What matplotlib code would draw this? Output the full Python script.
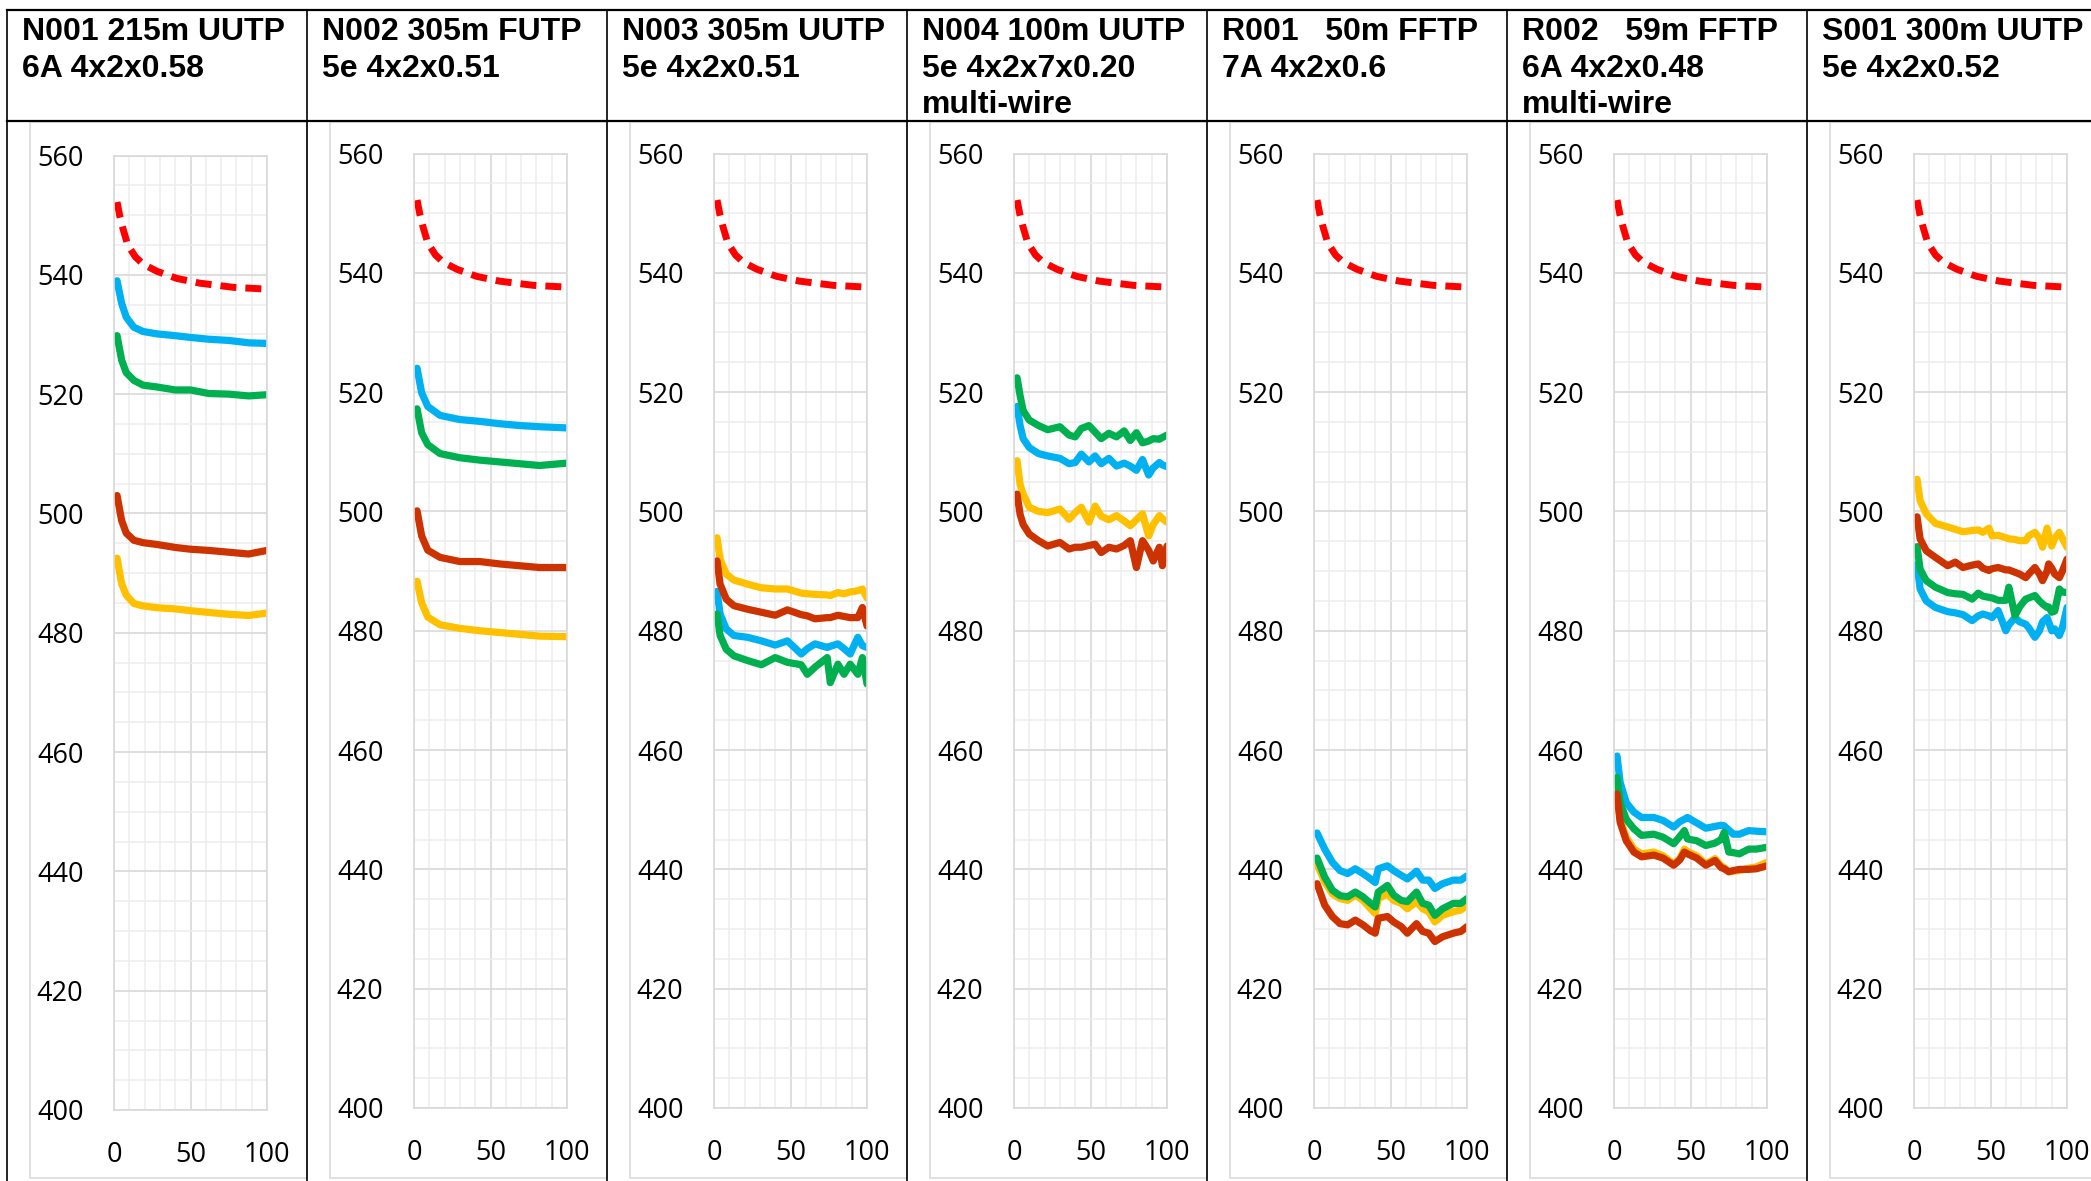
import matplotlib
matplotlib.use("Agg")
import matplotlib.pyplot as plt
from matplotlib.patches import Rectangle

# header text of each table column
headers = [
    ["N001 215m UUTP", "6A 4x2x0.58"],
    ["N002 305m FUTP", "5e 4x2x0.51"],
    ["N003 305m UUTP", "5e 4x2x0.51"],
    ["N004 100m UUTP", "5e 4x2x7x0.20", "multi-wire"],
    ["R001   50m FFTP", "7A 4x2x0.6"],
    ["R002   59m FFTP", "6A 4x2x0.48", "multi-wire"],
    ["S001 300m UUTP", "5e 4x2x0.52"],
]

# limit line (red dashed), same in every chart
limit_x = [2, 4, 6, 9, 14, 19, 28, 41, 56, 78, 100]
limit_y = [552.2, 549.6, 547.6, 545.0, 543.0, 541.8, 540.6, 539.4, 538.6, 537.9, 537.6]

# N001
n001_x = [2, 5, 8, 13, 19, 28, 40, 50, 62, 75, 88, 100]
n001_blue = [539.0, 535.2, 532.9, 531.2, 530.5, 530.1, 529.8, 529.5, 529.2, 529.0, 528.6, 528.5]
n001_green = [529.8, 525.7, 523.6, 522.3, 521.5, 521.2, 520.7, 520.7, 520.1, 520.0, 519.7, 519.9]
n001_red = [503.0, 498.8, 496.7, 495.5, 495.1, 494.8, 494.3, 494.0, 493.8, 493.5, 493.2, 493.8]
n001_yellow = [492.5, 488.2, 486.3, 484.9, 484.5, 484.2, 484.0, 483.7, 483.4, 483.1, 482.9, 483.3]

# N002
n002_x = [2, 5, 9, 17, 30, 43, 56, 69, 82, 100]
n002_blue = [524.0, 519.9, 517.6, 516.1, 515.4, 515.1, 514.7, 514.4, 514.2, 514.0]
n002_green = [517.2, 513.2, 511.2, 509.7, 509.0, 508.6, 508.3, 508.0, 507.7, 508.1]
n002_red = [500.1, 495.9, 493.5, 492.3, 491.6, 491.6, 491.2, 490.9, 490.6, 490.6]
n002_yellow = [488.3, 484.7, 482.3, 481.0, 480.4, 480.0, 479.7, 479.4, 479.1, 479.0]

# N003
n003_x = [2, 4, 8, 13, 22, 31, 40, 48, 57, 61, 66, 74, 76, 81, 85, 89, 94, 97, 100]
n003_yellow = [495.6, 492.0, 489.5, 488.5, 487.8, 487.2, 487.0, 487.0, 486.3, 486.2, 486.1,
               486.0, 485.9, 486.4, 486.2, 486.5, 486.7, 487.0, 485.5]
n003_red = [491.7, 487.8, 485.3, 484.2, 483.6, 483.1, 482.6, 483.5, 482.7, 482.5, 482.0,
            482.2, 482.2, 482.6, 482.4, 482.2, 482.2, 483.9, 480.8]
n003_blue = [486.6, 482.8, 480.3, 479.2, 478.9, 478.3, 477.6, 478.3, 476.1, 477.0, 477.8,
             477.2, 477.4, 477.8, 477.0, 476.1, 478.9, 477.5, 477.2]
n003_green = [482.8, 479.2, 476.9, 475.8, 475.0, 474.3, 475.5, 474.7, 474.3, 472.7, 473.9,
              475.5, 471.3, 474.4, 472.7, 474.4, 472.7, 475.5, 471.1]

# N004
n004_x = [2, 4, 6, 10, 16, 22, 30, 36, 40, 44, 49, 53, 57, 62, 67, 72, 76, 80, 84, 88, 91, 95, 97, 100]
n004_green = [522.4, 519.4, 516.9, 515.3, 514.4, 513.7, 514.2, 512.8, 512.5, 513.9, 514.4, 513.3,
              512.2, 513.1, 512.5, 513.5, 511.9, 513.2, 511.5, 511.8, 512.2, 512.1, 512.4, 512.8]
n004_blue = [517.6, 514.4, 512.2, 510.7, 509.7, 509.3, 508.9, 508.0, 508.2, 509.6, 508.3, 509.3,
             508.0, 508.9, 507.6, 508.1, 507.6, 506.9, 508.7, 506.1, 507.3, 508.2, 507.8, 507.5]
n004_yellow = [508.5, 504.5, 502.9, 500.7, 500.0, 499.8, 500.4, 498.7, 499.8, 500.7, 498.2, 500.9,
               499.2, 498.6, 499.3, 498.4, 497.6, 498.6, 499.6, 495.9, 497.8, 499.3, 498.8, 498.2]
n004_red = [502.9, 499.5, 497.8, 496.2, 495.1, 494.2, 494.8, 493.7, 494.0, 494.0, 494.3, 494.5,
            493.1, 494.0, 493.7, 494.3, 495.1, 490.6, 495.1, 493.5, 491.7, 494.0, 490.9, 494.2]

# R001
r001_x = [2, 7, 12, 17, 22, 27, 32, 37, 40, 42, 48, 52, 57, 61, 67, 71, 75, 79, 84, 91, 96, 100]
r001_blue = [446.1, 443.4, 441.2, 439.8, 439.3, 440.1, 439.3, 438.4, 437.8, 440.1, 440.6,
             439.8, 439.0, 438.4, 439.7, 438.2, 438.2, 436.8, 437.6, 438.2, 438.2, 438.9]
r001_green = [441.9, 438.7, 436.5, 435.6, 435.4, 436.2, 435.4, 434.3, 433.7, 436.2, 437.3,
              435.7, 434.8, 434.6, 436.2, 434.3, 434.0, 432.3, 433.4, 434.3, 434.3, 435.1]
r001_yellow = [440.9, 437.9, 435.9, 435.1, 434.8, 435.7, 434.8, 433.4, 432.6, 435.1, 435.9,
               434.8, 434.3, 433.4, 434.6, 433.4, 432.9, 431.2, 432.3, 432.9, 433.2, 434.0]
r001_red = [437.6, 434.0, 432.1, 430.9, 430.7, 431.5, 430.7, 429.7, 429.3, 431.8, 432.1,
            431.2, 430.4, 429.3, 430.9, 429.6, 429.3, 427.9, 428.7, 429.3, 429.6, 430.4]

# R002
r002_x = [2, 4, 8, 13, 18, 26, 32, 39, 43, 46, 48, 54, 60, 66, 70, 72, 75, 78, 82, 88, 93, 100]
r002_blue = [459.0, 454.6, 451.2, 449.6, 448.7, 448.7, 448.2, 447.1, 448.0, 448.4, 448.7,
             447.8, 446.9, 447.2, 447.4, 447.3, 446.6, 445.9, 445.9, 446.5, 446.4, 446.3]
r002_green = [455.4, 451.2, 448.4, 446.8, 445.7, 445.9, 445.4, 444.3, 445.5, 446.5, 445.1,
              444.8, 444.0, 444.4, 445.0, 446.2, 442.9, 442.8, 442.6, 443.4, 443.4, 443.7]
r002_yellow = [452.9, 448.4, 445.4, 443.4, 442.6, 442.9, 442.3, 440.9, 441.8, 443.4, 443.0,
               442.3, 440.9, 441.8, 440.6, 440.3, 439.6, 439.7, 439.8, 440.2, 440.4, 441.2]
r002_red = [452.6, 447.9, 444.8, 442.9, 442.1, 442.4, 441.9, 440.7, 441.6, 442.9, 442.6,
            441.9, 440.7, 441.5, 440.3, 440.1, 439.6, 439.8, 440.0, 440.0, 440.1, 440.6]

# S001
s001_x = [2, 4, 8, 14, 22, 27, 32, 38, 42, 45, 49, 51, 55, 60, 62, 66, 69, 73, 75, 79, 82,
          84, 87, 88, 90, 92, 95, 97, 100]
s001_yellow = [505.4, 501.8, 499.6, 498.0, 497.4, 497.0, 496.6, 496.8, 496.9, 496.5, 497.2,
               495.9, 496.0, 495.6, 495.4, 495.3, 495.1, 495.1, 495.9, 496.5, 495.5, 494.0,
               497.2, 496.0, 494.2, 495.5, 496.5, 495.5, 494.0]
s001_red = [499.1, 495.4, 493.4, 492.3, 490.9, 491.5, 490.6, 491.0, 491.2, 490.5, 490.1,
            490.4, 490.6, 490.2, 490.2, 489.8, 489.5, 488.9, 489.5, 490.6, 489.5, 488.4,
            490.0, 491.2, 490.5, 489.5, 488.9, 490.0, 492.0]
s001_green = [494.1, 490.3, 488.4, 487.3, 486.4, 486.2, 486.1, 485.3, 486.3, 485.8, 485.6,
              485.5, 485.1, 485.1, 487.3, 482.5, 484.0, 485.3, 485.5, 485.9, 485.0, 484.5,
              483.9, 484.0, 483.1, 483.3, 487.0, 486.5, 486.4]
s001_blue = [491.1, 487.0, 485.0, 483.9, 483.2, 483.0, 482.7, 481.7, 482.5, 482.8, 482.5,
             482.2, 483.4, 480.0, 481.0, 482.2, 481.5, 481.1, 480.5, 478.9, 480.0, 481.5,
             482.2, 481.5, 480.0, 480.3, 479.2, 480.5, 483.9]

cables = [
    (n001_x, n001_blue, n001_yellow, n001_green, n001_red),
    (n002_x, n002_blue, n002_yellow, n002_green, n002_red),
    (n003_x, n003_blue, n003_yellow, n003_green, n003_red),
    (n004_x, n004_blue, n004_yellow, n004_green, n004_red),
    (r001_x, r001_blue, r001_yellow, r001_green, r001_red),
    (r002_x, r002_blue, r002_yellow, r002_green, r002_red),
    (s001_x, s001_blue, s001_yellow, s001_green, s001_red),
]
colors = ["#00b0f0", "#ffc000", "#00b050", "#cc3300"]

W, H = 2091, 1181
fig = plt.figure(figsize=(W / 100, H / 100), dpi=100)

# full-figure layer in pixel coordinates for the table
frame = fig.add_axes([0, 0, 1, 1], zorder=0)
frame.set_xlim(0, W)
frame.set_ylim(H, 0)
frame.axis("off")

col_w = 300
x0 = 7
frame.plot([x0, W], [9.5, 9.5], color="black", lw=1.6)
frame.plot([x0, W], [121, 121], color="black", lw=1.6)
frame.plot([x0, x0], [9.5, H], color="black", lw=1.2)
for k in range(1, 7):
    frame.plot([x0 + k * col_w, x0 + k * col_w], [9.5, H], color="black", lw=1.2)

for k, lines in enumerate(headers):
    left = x0 + k * col_w
    for i, line in enumerate(lines):
        frame.text(left + 15, 40 + i * 36.7, line, fontsize=23, fontweight="bold",
                   family="Liberation Sans", va="baseline", ha="left")
    frame.add_patch(Rectangle((left + 23, 122), col_w - 23, 1056, fill=False,
                              edgecolor="#d9d9d9", lw=1.1))

top_px = [155.5, 153.5, 153.5, 153.5, 153.5, 153.5, 153.5]
bot_px = [1110, 1108, 1108, 1108, 1108, 1108, 1108]

for k, (xs, blue, yellow, green, red) in enumerate(cables):
    left = x0 + k * col_w + 107
    ax = fig.add_axes([left / W, 1 - bot_px[k] / H, 153 / W, (bot_px[k] - top_px[k]) / H],
                      zorder=2)
    ax.set_facecolor("white")
    ax.set_xlim(0, 100)
    ax.set_ylim(400, 560)
    ax.set_xticks([0, 50, 100])
    ax.set_xticks(range(0, 101, 10), minor=True)
    ax.set_yticks(range(400, 561, 20))
    ax.set_yticks(range(400, 561, 5), minor=True)
    ax.grid(which="minor", color="#ededed", lw=1.1)
    ax.grid(which="major", color="#d9d9d9", lw=1.2)
    ax.set_axisbelow(True)
    ax.tick_params(which="both", length=0, pad=22, labelsize=19.5)
    for lab in ax.get_xticklabels() + ax.get_yticklabels():
        lab.set_family("Open Sans")
    for sp in ax.spines.values():
        sp.set_color("#d9d9d9")
        sp.set_linewidth(1.2)

    for ys, c in zip([blue, yellow, green, red], colors):
        ax.plot(xs, ys, color=c, lw=5.2, solid_capstyle="round", solid_joinstyle="round")
    ax.plot(limit_x, limit_y, color="#ff0000", lw=5.0, dashes=(2.3, 1.3))

fig.savefig("out.png", dpi=100)
